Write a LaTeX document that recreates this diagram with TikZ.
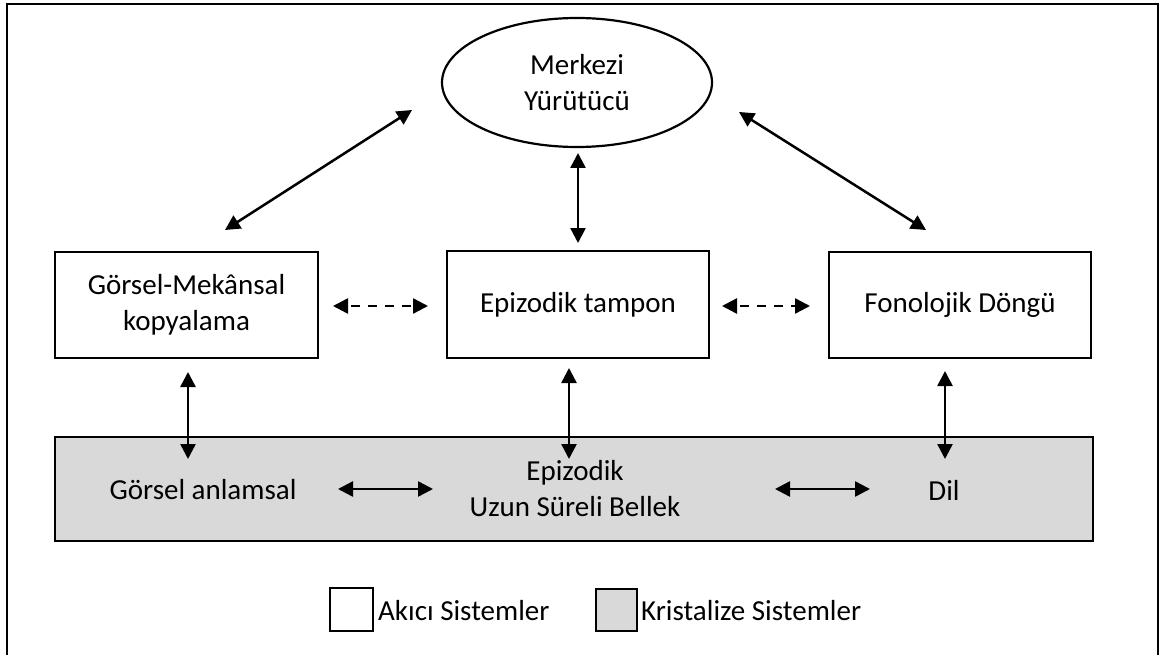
\documentclass[tikz,border=0pt]{standalone}
\usepackage{fontspec}
\setmainfont{Carlito}
\usetikzlibrary{arrows.meta,shapes.geometric}
\definecolor{lgray}{RGB}{217,217,217}
\begin{document}
\begin{tikzpicture}[x=1pt,y=-1pt,
  box/.style={draw, line width=2.2pt, inner sep=0pt, align=center, font=\fontsize{29}{36}\selectfont},
  lbl/.style={font=\fontsize{29}{36}\selectfont, align=center, inner sep=0pt},
  arr/.style={line width=2.5pt, {Triangle[length=15pt,width=15pt]}-{Triangle[length=15pt,width=15pt]}},
  darr/.style={arr, dash pattern=on 9pt off 8pt, dash phase=-4pt}
]
\useasboundingbox (0,0) rectangle (1161,655);
% outer frame (open at the bottom)
\coordinate (f1) at (7,655);
\coordinate (f2) at (7,4);
\coordinate (f3) at (1158,4);
\coordinate (f4) at (1158,655);
\draw[line width=2.2pt] (f1) -- (f2) -- (f3) -- (f4);

% nodes
\node[box, ellipse, minimum width=270pt, minimum height=129pt] (ce) at (577,82.5) {Merkezi\\Yürütücü};
\node[box, minimum width=263pt, minimum height=106pt] (vs) at (186.5,305) {Görsel-Mekânsal\\kopyalama};
\node[box, minimum width=262pt, minimum height=107pt] (eb) at (578,304.5) {Epizodik tampon};
\node[box, minimum width=262pt, minimum height=106pt] (pl) at (960,305) {Fonolojik Döngü};
\node[box, fill=lgray, minimum width=1038pt, minimum height=104pt] (lt) at (574,489) {};
\node[lbl] (ga) at (203,490) {Görsel anlamsal};
\node[lbl] (ep) at (575,489) {Epizodik\\Uzun Süreli Bellek};
\node[lbl] (dil) at (944,490) {Dil};

% legend
\node[box, minimum width=43pt, minimum height=43pt] (lw) at (351.5,609.5) {};
\node[lbl, anchor=west] (lwt) at (378,611) {Akıcı Sistemler};
\node[box, fill=lgray, minimum width=41pt, minimum height=42pt] (lg) at (616.5,610) {};
\node[lbl, anchor=west] (lgt) at (641,611) {Kristalize Sistemler};

% connector end points
\coordinate (a1) at (412,110);  \coordinate (a2) at (225,230);
\coordinate (b1) at (739,112);  \coordinate (b2) at (926,230);
\coordinate (c1) at (578,153);  \coordinate (c2) at (578,243);
\coordinate (d1) at (333,306);  \coordinate (d2) at (428,306);
\coordinate (e1) at (722,306);  \coordinate (e2) at (810,306);
\coordinate (g1) at (188,372);  \coordinate (g2) at (188,459);
\coordinate (h1) at (569,368);  \coordinate (h2) at (569,459);
\coordinate (i1) at (945,371);  \coordinate (i2) at (945,459);
\coordinate (j1) at (338,489);  \coordinate (j2) at (433,489);
\coordinate (k1) at (775,489);  \coordinate (k2) at (870,489);

% connectors
\draw[arr] (a1) -- (a2);
\draw[arr] (b1) -- (b2);
\draw[arr] (c1) -- (c2);
\draw[darr] (d1) -- (d2);
\draw[darr] (e1) -- (e2);
\draw[arr] (g1) -- (g2);
\draw[arr] (h1) -- (h2);
\draw[arr] (i1) -- (i2);
\draw[arr] (j1) -- (j2);
\draw[arr] (k1) -- (k2);
\end{tikzpicture}
\end{document}
